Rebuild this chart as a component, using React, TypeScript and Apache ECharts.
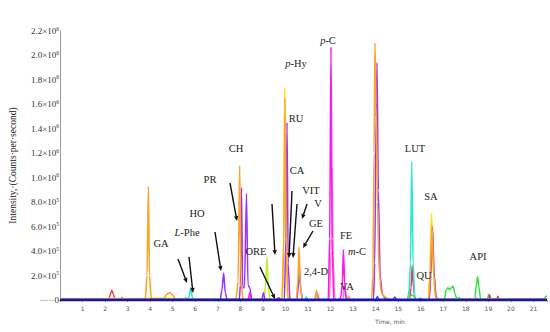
import React, { useEffect, useRef } from "react";
import * as echarts from "echarts";

// ---- data (time in min, intensity in counts per second) ----
const xTicks = [1, 2, 3, 4, 5, 6, 7, 8, 9, 10, 11, 12, 13, 14, 15, 16, 17, 18, 19, 20, 21];
const yTicks = [0, 2e5, 4e5, 6e5, 8e5, 1e6, 1.2e6, 1.4e6, 1.6e6, 1.8e6, 2.0e6, 2.2e6];

const orangeTrace = [[0,0],[3.78,0],[3.86,2e5],[3.92,9.3e5],[3.97,2e5],[4.05,1e4],[4.6,1e4],[4.75,5e4],[4.88,6e4],[5.0,4e4],[5.12,5e3],[7.8,0],[7.9,1.5e5],[7.97,1.1e6],[8.03,1.5e5],[8.12,0],[9.85,0],[9.92,4e5],[9.98,1.65e6],[10.04,4e5],[10.12,0],[10.48,0],[10.55,1.5e5],[10.6,4.3e5],[10.66,1.2e5],[10.74,0],[11.3,0],[11.38,8e4],[11.46,0],[12.7,0],[12.8,3e4],[12.9,0],[13.82,0],[13.88,2e5],[13.93,1.2e6],[13.97,2.1e6],[14.02,1.6e6],[14.08,8e5],[14.15,2.5e5],[14.25,6e4],[14.4,2.5e4],[14.6,5e3],[14.8,0],[16.35,0],[16.42,2e5],[16.5,6.1e5],[16.58,2e5],[16.66,2e4],[16.8,0],[21.6,0]];
const purpleTrace = [[0,0],[7.1,0],[7.18,8e4],[7.26,2.2e5],[7.33,6e4],[7.42,0],[7.95,0],[8.0,1.2e5],[8.05,9.2e5],[8.1,1.0e5],[8.18,1e5],[8.27,8.7e5],[8.34,1.2e5],[8.42,1e5],[8.5,0],[8.95,0],[9.02,6e4],[9.1,0],[9.95,0],[10.02,5e5],[10.07,1.45e6],[10.12,3e5],[10.2,0],[10.5,0],[10.58,1.2e5],[10.62,2.7e5],[10.68,8e4],[10.76,0],[11.3,0],[11.4,6e4],[11.5,0],[13.9,0],[13.96,3e5],[14.02,1.5e6],[14.06,1.94e6],[14.12,9e5],[14.2,2e5],[14.3,5e4],[14.45,0],[16.38,0],[16.45,2e5],[16.52,6e5],[16.6,2e5],[16.7,0],[21.6,0]];
const blueBumpTrace = [[0,0],[14.0,0],[14.08,3e4],[14.16,0],[14.75,0],[14.85,2.5e4],[14.95,0],[21.6,0]];
const magentaTrace = [[0,0],[8.35,0],[8.42,6e4],[8.5,0],[9.6,0],[9.7,2e4],[9.8,0],[11.9,0],[11.96,5e5],[12.02,2.07e6],[12.07,5e5],[12.14,0],[12.4,0],[12.46,3e4],[12.52,1.2e5],[12.57,4.1e5],[12.63,1.2e5],[12.7,0],[21.6,0]];
const pinkTrace = [[0,0],[11.95,0],[12.02,4e5],[12.07,1.08e6],[12.12,3e5],[12.2,0],[12.55,0],[12.62,1.5e5],[12.7,0],[21.6,0]];
const yellowTrace = [[0,1.2e4],[3.8,1.2e4],[4,1.5e4],[5.5,1e4],[7.5,8e3],[9.85,5e3],[9.92,5e5],[9.97,1.73e6],[10.02,5e5],[10.1,0],[15.45,0],[15.55,1.5e4],[15.65,0],[16.33,0],[16.4,2e5],[16.48,7.1e5],[16.56,2.5e5],[16.65,3e4],[16.8,1e4],[21.6,1e4]];
const limeTrace = [[0,0],[9.05,0],[9.12,1.2e5],[9.18,3.5e5],[9.24,1e5],[9.32,0],[10.1,0],[10.18,2.5e4],[10.26,0],[21.6,0]];
const cyanTrace = [[0,0],[5.5,0],[5.58,2e4],[5.66,0],[5.72,3e4],[5.8,1.0e5],[5.87,2e4],[5.95,0],[10.85,0],[10.93,2.5e4],[11.0,0],[15.47,0],[15.54,3e5],[15.6,1.13e6],[15.66,3e5],[15.74,0],[18.45,0],[18.5,1.5e4],[18.55,0],[21.6,0]];
const redTrace = [[0,0],[2.15,0],[2.22,4e4],[2.3,8e4],[2.38,4e4],[2.45,0],[2.7,0],[2.75,2e4],[2.8,0],[3.85,0],[3.92,1e4],[4.0,0],[15.5,0],[15.57,1e5],[15.62,2.8e5],[15.68,1e5],[15.75,0],[19.0,0],[19.06,4e4],[19.12,0],[19.35,0],[19.42,3e4],[19.5,0],[21.6,0]];
const greenTrace = [[0,0],[15.4,0],[15.5,8e4],[15.58,4e4],[15.7,3e4],[15.8,0],[16.0,1.5e4],[16.1,0],[17.05,0],[17.12,8e4],[17.2,1e5],[17.28,8.5e4],[17.36,1.0e5],[17.44,1.15e5],[17.52,5e4],[17.6,1e4],[17.7,2e4],[17.8,0],[18.4,0],[18.46,1.2e5],[18.52,1.9e5],[18.58,1.1e5],[18.66,0],[18.95,0],[19.02,5e4],[19.1,0],[21.45,0],[21.55,3e4],[21.6,3e4]];
const baselineTrace = [[0,0],[21.6,0]];

const traces = [
  { name: "green", data: greenTrace, color: "#2EE63A", width: 1.5 },
  { name: "red", data: redTrace, color: "#FF3355", width: 1.5 },
  { name: "cyan", data: cyanTrace, color: "#2EE6D6", width: 1.6 },
  { name: "lime", data: limeTrace, color: "#BFEF2A", width: 1.6 },
  { name: "yellow", data: yellowTrace, color: "#FFE01A", width: 1.7 },
  { name: "purple", data: purpleTrace, color: "#9933FF", width: 1.5 },
  { name: "orange", data: orangeTrace, color: "#FFA424", width: 1.6 },
  { name: "pink", data: pinkTrace, color: "#FF77DD", width: 1.5 },
  { name: "magenta", data: magentaTrace, color: "#FF1AE8", width: 1.6 },
  { name: "blueBumps", data: blueBumpTrace, color: "#3344FF", width: 1.3 },
  { name: "baseline", data: baselineTrace, color: "#1414B8", width: 2.8 },
];

// ---- annotations (pixel positions) ----
const labels = [
  { t: "{i|p}-Hy", x: 296, y: 63 },
  { t: "{i|p}-C", x: 328, y: 40 },
  { t: "RU", x: 296, y: 118 },
  { t: "CH", x: 236, y: 148 },
  { t: "CA", x: 297, y: 170 },
  { t: "PR", x: 210, y: 179 },
  { t: "VIT", x: 311, y: 190 },
  { t: "V", x: 318, y: 203 },
  { t: "HO", x: 197, y: 213 },
  { t: "GE", x: 316, y: 223 },
  { t: "FE", x: 346, y: 235 },
  { t: "{i|m}-C", x: 357, y: 251 },
  { t: "GA", x: 161, y: 243 },
  { t: "{i|L}-Phe", x: 187, y: 232 },
  { t: "ORE", x: 256, y: 251 },
  { t: "2,4-D", x: 316, y: 271 },
  { t: "VA", x: 347, y: 286 },
  { t: "LUT", x: 415, y: 148 },
  { t: "SA", x: 431, y: 196 },
  { t: "QU", x: 424, y: 275 },
  { t: "API", x: 478, y: 256 },
];
const arrows = [
  [178, 259, 187, 283],
  [189, 257, 193, 293],
  [215, 232, 221, 271],
  [230, 183, 237, 221],
  [260, 267, 275, 299],
  [272, 204, 275, 255],
  [292, 191, 289, 258],
  [297, 204, 293, 258],
  [307, 204, 302, 219],
  [313, 231, 303, 248],
];

function supLabel(v: number): string {
  if (v === 0) return "{d|·····}{a|0}";
  if (v >= 1e6) return `{a|${(v / 1e6).toFixed(1)}×10}{s|6}`;
  return `{a|${(v / 1e5).toFixed(1)}×10}{s|5}`;
}

export default function App() {
  const ref = useRef<HTMLDivElement>(null);
  useEffect(() => {
    if (!ref.current) return;
    const chart = echarts.init(ref.current, undefined, { renderer: "svg" });
    const graphic: any[] = [];
    labels.forEach((l) => {
      graphic.push({
        type: "text",
        x: l.x,
        y: l.y,
        z: 100,
        style: {
          text: l.t,
          font: "10.5px 'Liberation Serif', serif",
          fill: "#222",
          align: "center",
          verticalAlign: "middle",
          rich: { i: { fontStyle: "italic", fontSize: 10.5, fontFamily: "'Liberation Serif', serif", fill: "#222" } },
        },
      });
    });
    arrows.forEach(([x1, y1, x2, y2]) => {
      const ang = Math.atan2(y2 - y1, x2 - x1);
      const L = 5, W = 2.2;
      const bx = x2 - L * Math.cos(ang), by = y2 - L * Math.sin(ang);
      graphic.push({
        type: "line", z: 100,
        shape: { x1, y1, x2: bx, y2: by },
        style: { stroke: "#111", lineWidth: 1.4 },
      });
      graphic.push({
        type: "polygon", z: 100,
        shape: {
          points: [
            [x2, y2],
            [bx + W * Math.sin(ang), by - W * Math.cos(ang)],
            [bx - W * Math.sin(ang), by + W * Math.cos(ang)],
          ],
        },
        style: { fill: "#111" },
      });
    });
    graphic.push({
      type: "text", x: 390, y: 321, z: 100,
      style: { text: "Time, min", font: "6px 'DejaVu Sans', sans-serif", fill: "#555", align: "center", verticalAlign: "middle" },
    });

    chart.setOption({
      animation: false,
      grid: { left: 57, right: 2, top: 31, bottom: 32, containLabel: false },
      xAxis: {
        type: "value",
        min: 0,
        max: 21.6,
        interval: 1,
        axisLine: { show: true, lineStyle: { color: "#1414B8", width: 1 } },
        axisTick: { show: true, length: 2, lineStyle: { color: "#999" } },
        splitLine: { show: false },
        axisLabel: {
          fontSize: 6,
          color: "#555",
          margin: 5,
          fontFamily: "'DejaVu Sans', sans-serif",
          formatter: (v: number) => (xTicks.includes(v) ? String(v) : ""),
        },
      },
      yAxis: {
        type: "value",
        min: 0,
        max: 2.2e6,
        interval: 2e5,
        name: "Intensity,·(Counts·per·second)",
        nameLocation: "middle",
        nameGap: 42,
        nameRotate: 90,
        nameTextStyle: { fontFamily: "'Liberation Serif', serif", fontSize: 9.5, color: "#222" },
        axisLine: { show: true, lineStyle: { color: "#9a9a9a", width: 1 } },
        axisTick: { show: false },
        splitLine: { show: false },
        axisLabel: {
          margin: 1,
          formatter: (v: number) => (yTicks.includes(v) ? supLabel(v) : ""),
          rich: {
            a: { fontFamily: "'Liberation Serif', serif", fontSize: 9, color: "#333" },
            d: { fontFamily: "'Liberation Serif', serif", fontSize: 9, color: "#333" },
            s: { fontFamily: "'Liberation Serif', serif", fontSize: 5.5, color: "#333", padding: [0, 0, 5, 0] },
          },
        },
      },
      series: traces.map((tr, i) => ({
        type: "line",
        name: tr.name,
        data: tr.data,
        showSymbol: false,
        symbol: "none",
        smooth: 0.25,
        smoothMonotone: "x",
        z: 2 + i,
        lineStyle: { color: tr.color, width: tr.width },
        clip: true,
      })),
      graphic,
    });
    return () => chart.dispose();
  }, []);
  return <div ref={ref} style={{ position: "absolute", left: 0, top: 0, width: 550, height: 332, background: "#fff" }} />;
}
